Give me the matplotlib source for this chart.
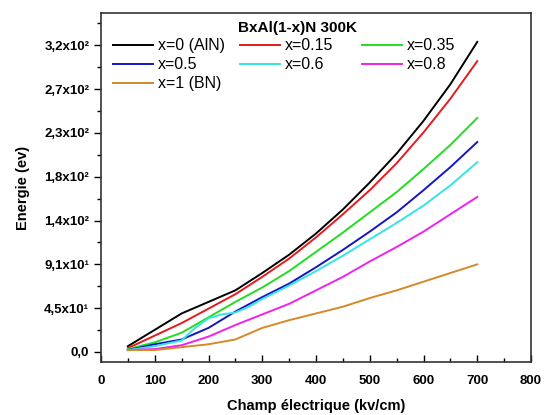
import matplotlib
matplotlib.use("Agg")
import matplotlib.pyplot as plt
from matplotlib.legend import Legend
from matplotlib.ticker import MultipleLocator, FixedLocator

plt.rcParams['font.family'] = ['Liberation Sans', 'DejaVu Sans']

# Electric field (kV/cm)
field = [50, 100, 150, 200, 250, 300, 350, 400, 450, 500, 550, 600, 650, 700]
field_cyan = [50, 100, 150, 175, 200, 225, 250, 275, 300, 350, 400, 450, 500,
              550, 600, 650, 700]

# Energy (eV) for each boron fraction
e_x0 = [6, 23, 40, 52, 64, 82, 101, 123, 148, 176, 206, 240, 278, 322]
e_x015 = [4, 17, 30, 45, 60, 78, 97, 119, 143, 168, 196, 228, 263, 302]
e_x035 = [3, 10, 20, 36, 52, 67, 84, 104, 124, 145, 166, 190, 215, 243]
e_x05 = [2, 8, 13, 25, 42, 57, 71, 88, 106, 125, 145, 168, 192, 218]
e_x06 = [2, 6, 12, 25, 35, 39, 41, 47, 55, 69, 84, 100, 117, 134, 152, 173, 197]
e_x08 = [2, 3, 7, 16, 28, 39, 50, 64, 78, 94, 109, 125, 143, 161]
e_x1 = [2, 2, 5, 8, 13, 25, 33, 40, 47, 56, 64, 73, 82, 91]

labels = ['x=0 (AlN)', 'x=0.15', 'x=0.35', 'x=0.5', 'x=0.6', 'x=0.8', 'x=1 (BN)']
colors = ['#000000', '#e41a1c', '#22dd22', '#1515c8', '#33e5e5', '#ee22ee', '#d4892a']

y_ticks = [0, 45.5, 91, 136.5, 182, 227.5, 273, 318.5]
y_tick_labels = ['0,0', '4,5x10¹', '9,1x10¹', '1,4x10²', '1,8x10²', '2,3x10²',
                 '2,7x10²', '3,2x10²']
x_ticks = [0, 100, 200, 300, 400, 500, 600, 700, 800]

fig = plt.figure(figsize=(5.48, 4.15), dpi=100)
ax = fig.add_axes([0.1843, 0.1277, 0.7847, 0.841])

series = [(field, e_x0), (field, e_x015), (field, e_x035), (field, e_x05),
          (field_cyan, e_x06), (field, e_x08), (field, e_x1)]
handles = []
for (xs, ys), lab, col in zip(series, labels, colors):
    h, = ax.plot(xs, ys, color=col, lw=1.4, label=lab)
    handles.append(h)

ax.set_xlim(0, 800)
ax.set_ylim(-10.4, 352)
ax.xaxis.set_major_locator(FixedLocator(x_ticks))
ax.xaxis.set_minor_locator(MultipleLocator(50))
ax.yaxis.set_major_locator(FixedLocator(y_ticks))
ax.yaxis.set_minor_locator(FixedLocator([t + 22.75 for t in y_ticks]))
ax.set_yticklabels(y_tick_labels)

ax.tick_params(axis='x', which='major', direction='in', length=5, width=1, labelsize=9.5, pad=9)
ax.tick_params(axis='x', which='minor', direction='in', length=3, width=1)
ax.tick_params(axis='y', which='major', direction='out', length=5, width=1, labelsize=9.5)
ax.tick_params(axis='y', which='minor', direction='out', length=3, width=1)
for lab in ax.get_xticklabels() + ax.get_yticklabels():
    lab.set_fontweight('bold')

for sp in ax.spines.values():
    sp.set_linewidth(1.2)
    sp.set_color('#333333')

ax.set_xlabel('Champ électrique (kv/cm)', fontsize=10.5, fontweight='bold', labelpad=9)
ax.set_ylabel('Energie (ev)', fontsize=10.5, fontweight='bold', labelpad=10)

# Legend title and three legend columns
ax.text(0.456, 0.958, 'BxAl(1-x)N 300K', transform=ax.transAxes,
        ha='center', va='center', fontsize=11, fontweight='bold')
columns = [([0, 3, 6], 0.028), ([1, 4], 0.323), ([2, 5], 0.607)]
for idx, xpos in columns:
    leg = Legend(ax, [handles[i] for i in idx], [labels[i] for i in idx],
                 loc='upper left', bbox_to_anchor=(xpos, 0.927),
                 frameon=False, fontsize=11.5, handlelength=2.5,
                 handletextpad=0.3, labelspacing=0.24,
                 borderpad=0, borderaxespad=0)
    ax.add_artist(leg)

fig.savefig('out.png', dpi=100)
